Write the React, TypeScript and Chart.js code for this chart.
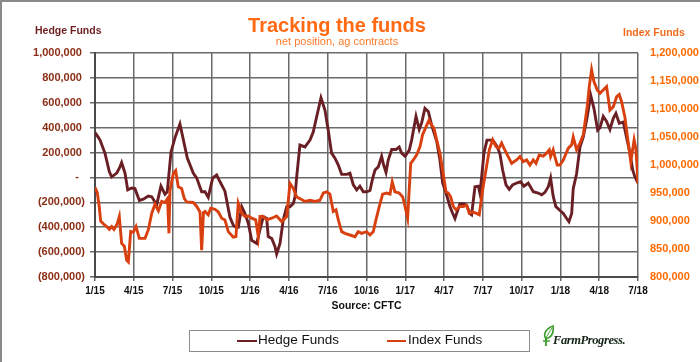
import React, { useEffect, useRef } from "react";
import { Chart, registerables } from "chart.js";

Chart.register(...registerables);

// x positions are months since January 2015; values in thousands of contracts
const tickLabels = ["1/15", "4/15", "7/15", "10/15", "1/16", "4/16", "7/16", "10/16", "1/17", "4/17", "7/17", "10/17", "1/18", "4/18", "7/18"];

const hedgeMonths = [0.00, 0.26, 0.39, 0.77, 1.11, 1.29, 1.68, 1.93, 2.06, 2.32, 2.53, 2.84, 3.09, 3.43, 3.74, 4.12, 4.39, 4.77, 5.10, 5.41, 5.59, 5.88, 6.19, 6.57, 7.14, 7.60, 7.87, 8.25, 8.51, 8.76, 9.10, 9.41, 9.67, 10.05, 10.44, 10.70, 10.90, 11.08, 11.35, 11.60, 11.86, 12.12, 12.51, 12.76, 13.02, 13.28, 13.40, 13.67, 13.92, 14.05, 14.31, 14.56, 14.83, 15.08, 15.34, 15.47, 15.60, 15.85, 16.24, 16.63, 16.88, 17.15, 17.48, 17.79, 18.04, 18.30, 18.56, 18.82, 19.08, 19.47, 19.72, 19.98, 20.24, 20.49, 20.75, 21.01, 21.27, 21.48, 21.66, 21.91, 22.17, 22.30, 22.51, 22.68, 22.95, 23.28, 23.53, 23.72, 23.98, 24.31, 24.49, 24.83, 25.08, 25.27, 25.52, 25.78, 26.04, 26.43, 26.68, 26.89, 27.15, 27.46, 27.67, 27.84, 28.05, 28.23, 28.54, 28.75, 29.00, 29.13, 29.39, 29.65, 29.78, 30.09, 30.32, 30.78, 31.09, 31.32, 31.53, 31.79, 32.04, 32.30, 32.61, 32.92, 33.18, 33.51, 33.90, 34.28, 34.55, 34.80, 35.06, 35.24, 35.44, 35.65, 35.91, 36.22, 36.48, 36.66, 36.87, 36.99, 37.25, 37.51, 37.77, 38.07, 38.34, 38.59, 38.88, 39.06, 39.31, 39.57, 39.83, 40.09, 40.29, 40.55, 40.86, 41.12, 41.38, 41.59, 41.76, 42.00];
const hedgeValues = [360, 322, 300, 195, 45, 5, 35, 85, 120, 35, -100, -85, -90, -185, -175, -150, -155, -220, -70, -135, -115, 205, 320, 430, 155, 35, -5, -115, -115, -160, -5, 20, -35, -110, -320, -385, -400, -400, -235, -290, -370, -505, -530, -420, -315, -330, -475, -490, -555, -615, -530, -340, -235, -235, -210, -155, 5, 260, 245, 300, 365, 490, 640, 540, 380, 195, 155, 100, 25, 25, 35, -60, -100, -70, -115, -115, -105, -5, 60, 85, 170, 110, 40, 140, 225, 225, 245, 195, 170, 220, 300, 490, 385, 440, 555, 530, 420, 290, 140, -45, -125, -235, -290, -330, -265, -210, -210, -225, -290, -300, -75, -70, -130, 200, 300, 300, 250, 190, 60, -60, -95, -60, -45, -35, -70, -45, -115, -125, -140, -120, -75, -5, -150, -235, -260, -290, -330, -355, -290, -90, 30, 245, 325, 485, 660, 555, 380, 400, 490, 450, 385, 475, 515, 435, 445, 320, 195, 60, 5, -45];

const indexMonths = [0.00, 0.18, 0.33, 0.44, 0.64, 0.90, 1.11, 1.29, 1.47, 1.72, 1.88, 2.06, 2.27, 2.45, 2.58, 2.76, 2.96, 3.17, 3.43, 3.87, 4.12, 4.39, 4.64, 4.90, 5.16, 5.41, 5.61, 5.72, 5.80, 6.06, 6.24, 6.44, 6.70, 6.91, 7.09, 7.60, 7.87, 8.12, 8.25, 8.39, 8.51, 8.76, 8.95, 9.28, 9.54, 9.80, 10.05, 10.31, 10.70, 10.90, 11.08, 11.35, 11.60, 11.86, 12.12, 12.43, 12.63, 12.76, 13.02, 13.28, 13.67, 14.05, 14.44, 14.83, 15.08, 15.34, 15.60, 15.85, 16.24, 16.63, 17.02, 17.40, 17.66, 17.92, 18.17, 18.43, 18.64, 18.82, 19.08, 19.33, 19.72, 20.11, 20.36, 20.62, 21.01, 21.27, 21.53, 21.73, 21.99, 22.25, 22.56, 22.82, 22.99, 23.20, 23.53, 23.80, 23.98, 24.18, 24.42, 24.62, 24.88, 25.14, 25.34, 25.60, 25.83, 26.04, 26.22, 26.43, 26.68, 26.89, 27.15, 27.33, 27.51, 27.71, 27.92, 28.23, 28.48, 28.75, 28.95, 29.21, 29.47, 29.72, 29.98, 30.24, 30.50, 30.76, 31.01, 31.25, 31.45, 31.63, 31.89, 32.23, 32.61, 32.87, 33.12, 33.39, 33.64, 33.90, 34.11, 34.36, 34.67, 34.93, 35.14, 35.24, 35.44, 35.57, 35.75, 35.96, 36.22, 36.61, 36.87, 36.99, 37.25, 37.51, 37.77, 38.07, 38.23, 38.41, 38.59, 38.85, 39.06, 39.31, 39.57, 39.83, 40.09, 40.35, 40.55, 40.73, 40.99, 41.25, 41.44, 41.70, 41.83, 41.96, 42.00];
const indexValues = [960, 950, 925, 900, 895, 890, 885, 890, 885, 895, 908, 860, 855, 830, 827, 881, 880, 890, 869, 869, 884, 914, 930, 918, 935, 933, 940, 878, 955, 985, 990, 961, 958, 940, 934, 933, 926, 916, 848, 915, 917, 911, 923, 921, 916, 905, 902, 881, 871, 872, 932, 914, 908, 909, 905, 902, 872, 908, 908, 902, 905, 909, 899, 908, 967, 958, 943, 940, 935, 937, 935, 937, 950, 952, 948, 917, 920, 902, 881, 878, 875, 872, 881, 878, 881, 875, 881, 902, 926, 948, 950, 948, 970, 952, 950, 943, 926, 905, 1003, 1009, 1018, 1033, 1054, 1068, 1080, 1071, 1066, 1045, 1021, 991, 952, 950, 943, 926, 920, 926, 926, 928, 914, 916, 914, 911, 955, 991, 1027, 1045, 1033, 1030, 1039, 1030, 1018, 1003, 1009, 1015, 1006, 1009, 1000, 1009, 1003, 1018, 1016, 1021, 1027, 1015, 1027, 1015, 1000, 1000, 1009, 1030, 1036, 1050, 1027, 1039, 1054, 1104, 1140, 1170, 1149, 1134, 1128, 1134, 1140, 1098, 1104, 1122, 1126, 1113, 1085, 1039, 1006, 1045, 1030, 985, 967];

const HEDGE = "#6a1f24";
const INDEX = "#d9400f";
const FONT = '"Liberation Sans", Arial, sans-serif';
const GRID = "#6a6a6a";

function hedgeLabel(v: number): string {
  if (v === 0) return "-  ";
  const s = Math.abs(v).toLocaleString("en-US");
  return v < 0 ? "(" + s + ")" : s + " ";
}

export default function App() {
  const ref = useRef<HTMLCanvasElement | null>(null);

  useEffect(() => {
    if (!ref.current) return;
    const chart = new Chart(ref.current, {
      type: "line",
      data: {
        datasets: [
          {
            label: "Index Funds",
            data: indexMonths.map((m, i) => ({ x: m, y: indexValues[i] * 1000 })),
            yAxisID: "yI",
            borderColor: INDEX,
            borderWidth: 2.9,
            pointRadius: 0,
            tension: 0,
            order: 1,
          },
          {
            label: "Hedge Funds",
            data: hedgeMonths.map((m, i) => ({ x: m, y: hedgeValues[i] * 1000 })),
            yAxisID: "yH",
            borderColor: HEDGE,
            borderWidth: 2.9,
            pointRadius: 0,
            tension: 0,
            order: 2,
          },
        ],
      },
      options: {
        animation: false,
        responsive: false,
        maintainAspectRatio: false,
        layout: { padding: { top: 53, left: 0, right: 0, bottom: 0 } },
        plugins: { legend: { display: false }, tooltip: { enabled: false }, title: { display: false } },
        scales: {
          x: {
            type: "linear",
            position: "bottom",
            min: 0,
            max: 42,
            ticks: {
              stepSize: 3,
              autoSkip: false,
              maxRotation: 0,
              padding: 4,
              color: "#111",
              font: { family: FONT, size: 10, weight: "bold" },
              callback: (v: any) => tickLabels[Math.round(Number(v) / 3)] ?? "",
            },
            grid: { color: GRID, lineWidth: 1.5, tickLength: 4 },
            border: { color: "#4a4a4a", width: 2 },
            afterFit: (s: any) => { s.height = 85; },
          },
          yH: {
            type: "linear",
            position: "left",
            min: -800000,
            max: 1000000,
            ticks: {
              stepSize: 200000,
              padding: 5,
              color: "#8b2e16",
              font: { family: FONT, size: 11, weight: "bold" },
              callback: (v: any) => hedgeLabel(Number(v)),
            },
            grid: { color: GRID, lineWidth: 1.5, tickLength: 5 },
            border: { color: "#4a4a4a", width: 2 },
            afterFit: (s: any) => { s.width = 95; },
          },
          yI: {
            type: "linear",
            position: "right",
            min: 800000,
            max: 1200000,
            ticks: {
              stepSize: 50000,
              padding: 12,
              color: "#ff6a00",
              font: { family: FONT, size: 11, weight: "bold" },
              callback: (v: any) => Number(v).toLocaleString("en-US"),
            },
            grid: { display: false, drawTicks: false },
            border: { display: false },
            afterFit: (s: any) => { s.width = 62; },
          },
        },
      },
    });
    return () => chart.destroy();
  }, []);

  const abs = (o: React.CSSProperties): React.CSSProperties => ({ position: "absolute", whiteSpace: "nowrap", fontFamily: FONT, ...o });

  return (
    <div style={{ position: "absolute", left: 0, top: 0, width: 700, height: 362, background: "#fff", overflow: "hidden" }}>
      <canvas ref={ref} width={700} height={362} style={{ position: "absolute", left: 0, top: 0, width: 700, height: 362 }} />
      <div style={{ position: "absolute", left: 0, top: 0, width: 700, height: 2, background: "#8a8a8a" }} />
      <div style={{ position: "absolute", left: 0, top: 0, width: 2, height: 362, background: "#8a8a8a" }} />
      <div style={abs({ left: 0, width: 674, top: 15, textAlign: "center", fontSize: 20, lineHeight: "20px", fontWeight: "bold", color: "#ff6a13" })}>Tracking the funds</div>
      <div style={abs({ left: 0, width: 674, top: 36, textAlign: "center", fontSize: 11, lineHeight: "11px", color: "#ff7a2a" })}>net position, ag contracts</div>
      <div style={abs({ left: 35, top: 25, fontSize: 10.5, lineHeight: "10.5px", fontWeight: "bold", color: "#6e1f1f" })}>Hedge Funds</div>
      <div style={abs({ left: 623, top: 27, fontSize: 10.5, lineHeight: "10.5px", fontWeight: "bold", color: "#f26b1d" })}>Index Funds</div>
      <div style={abs({ left: 95, width: 543, top: 300, textAlign: "center", fontSize: 10.5, lineHeight: "10.5px", fontWeight: "bold", color: "#111" })}>Source: CFTC</div>
      <div style={{ position: "absolute", left: 189, top: 330, width: 341, height: 22, border: "1px solid #8c8c8c", boxSizing: "border-box" }} />
      <div style={{ position: "absolute", left: 237, top: 339.5, width: 20, height: 2.6, background: HEDGE }} />
      <div style={abs({ left: 258, top: 333, fontSize: 13.5, lineHeight: "13.5px", color: "#111" })}>Hedge Funds</div>
      <div style={{ position: "absolute", left: 387, top: 339.5, width: 19, height: 2.6, background: INDEX }} />
      <div style={abs({ left: 408, top: 333, fontSize: 13.5, lineHeight: "13.5px", color: "#111" })}>Index Funds</div>
      <svg style={{ position: "absolute", left: 541, top: 325 }} width={18} height={22} viewBox="0 0 18 22">
        <path d="M5 21 L5 9" stroke="#3a9a2a" strokeWidth={1.8} fill="none" />
        <path d="M5 14 C2 10 4 4 12 1 C13 7 11 12 5 14 Z" stroke="#3a9a2a" strokeWidth={1.6} fill="#fff" />
        <path d="M5 13 C7 9 9 6 11 3" stroke="#3a9a2a" strokeWidth={1} fill="none" />
        <path d="M2 16 L9 16" stroke="#3a9a2a" strokeWidth={1.4} />
      </svg>
      <div style={abs({ left: 553, top: 334, fontSize: 12.5, lineHeight: "12.5px", fontStyle: "italic", fontWeight: "bold", fontFamily: '"Liberation Serif", "Times New Roman", serif', color: "#142414", letterSpacing: "-0.4px" })}>FarmProgress.</div>
    </div>
  );
}
